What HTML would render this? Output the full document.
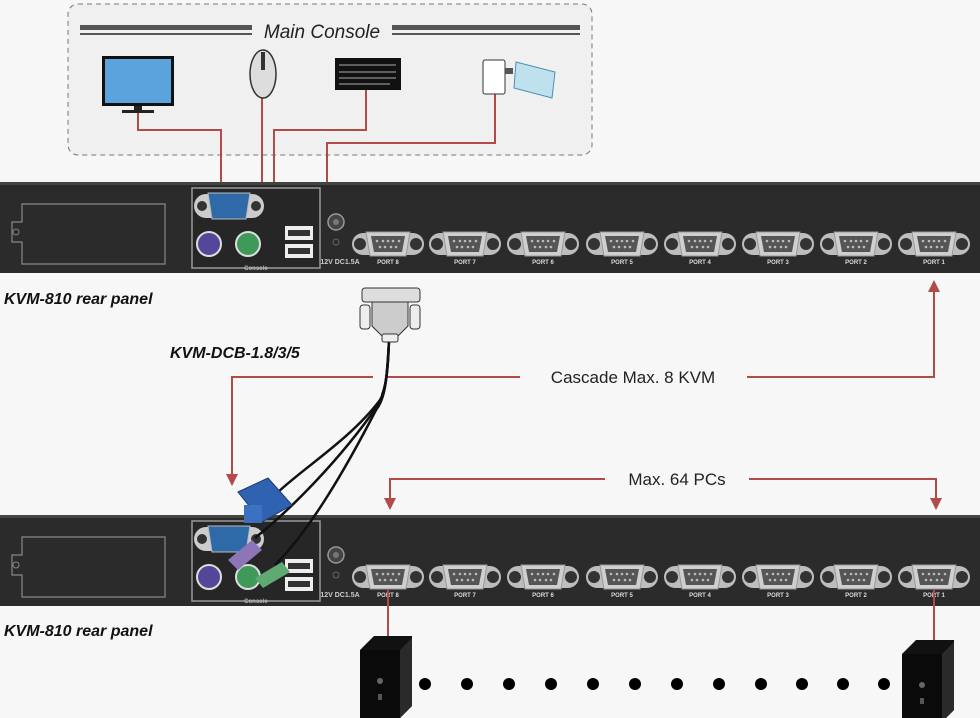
<!DOCTYPE html>
<html><head><meta charset="utf-8"><style>
html,body{margin:0;padding:0;background:#f7f7f7;}
svg{display:block;font-family:"Liberation Sans",sans-serif;}
</style></head><body>
<svg width="980" height="718" viewBox="0 0 980 718" xmlns="http://www.w3.org/2000/svg">
<defs>
<g id="vga">
  <rect x="-36" y="-11" width="72" height="22" rx="11" fill="#bdbdbd"/>
  <circle cx="-28" cy="0" r="6" fill="#333"/><circle cx="28" cy="0" r="6" fill="#333"/>
  <path d="M-22,-12 H22 L18,12 H-18 Z" fill="#cfcfcf" stroke="#999"/>
  <path d="M-17,-8 H17 L14,8 H-14 Z" fill="#555"/>
  <g fill="#bbb"><circle cx="-11" cy="-3" r="1.3"/><circle cx="-5" cy="-3" r="1.3"/><circle cx="0" cy="-3" r="1.3"/><circle cx="5" cy="-3" r="1.3"/><circle cx="11" cy="-3" r="1.3"/><circle cx="-8" cy="3" r="1.3"/><circle cx="-3" cy="3" r="1.3"/><circle cx="3" cy="3" r="1.3"/><circle cx="8" cy="3" r="1.3"/></g>
</g>
<g id="panel">
  <rect x="0" y="0" width="980" height="91" fill="#2b2b2b"/>
  <rect x="0" y="0" width="980" height="3" fill="#444"/>
  <path d="M22,22 H165 V82 H22 V60 H12 V40 H22 Z" fill="none" stroke="#888" stroke-width="1.2"/>
  <circle cx="16" cy="50" r="3" fill="none" stroke="#888"/>
  <rect x="192" y="6" width="128" height="80" fill="#262626" stroke="#999" stroke-width="1.5"/>
  <rect x="194" y="12" width="70" height="24" rx="12" fill="#ccc"/>
  <circle cx="202" cy="24" r="5" fill="#333"/><circle cx="256" cy="24" r="5" fill="#333"/>
  <path d="M208,11 H250 L246,37 H212 Z" fill="#2f6aa8" stroke="#bbb"/>
  <circle cx="209" cy="62" r="12" fill="#54479a" stroke="#ddd" stroke-width="2"/>
  <circle cx="248" cy="62" r="12" fill="#3f9a5a" stroke="#ddd" stroke-width="2"/>
  <rect x="285" y="44" width="28" height="14" fill="#eee"/><rect x="288" y="48" width="22" height="6" fill="#333"/>
  <rect x="285" y="62" width="28" height="14" fill="#eee"/><rect x="288" y="66" width="22" height="6" fill="#333"/>
  <text x="256" y="88" font-size="6" fill="#bbb" text-anchor="middle" font-weight="bold">Console</text>
  <circle cx="336" cy="40" r="8" fill="#444" stroke="#999" stroke-width="1.5"/><circle cx="336" cy="40" r="3" fill="#777"/>
  <circle cx="336" cy="60" r="3" fill="none" stroke="#666"/>
  <text x="340" y="82" font-size="7" fill="#ccc" text-anchor="middle" font-weight="bold">12V DC1.5A</text>
  <use href="#vga" x="388" y="62"/><use href="#vga" x="465" y="62"/><use href="#vga" x="543" y="62"/><use href="#vga" x="622" y="62"/>
  <use href="#vga" x="700" y="62"/><use href="#vga" x="778" y="62"/><use href="#vga" x="856" y="62"/><use href="#vga" x="934" y="62"/>
  <g font-size="6" fill="#ddd" text-anchor="middle" font-weight="bold">
  <text x="388" y="82">PORT 8</text><text x="465" y="82">PORT 7</text><text x="543" y="82">PORT 6</text><text x="622" y="82">PORT 5</text>
  <text x="700" y="82">PORT 4</text><text x="778" y="82">PORT 3</text><text x="856" y="82">PORT 2</text><text x="934" y="82">PORT 1</text></g>
</g>
<g id="pc">
  <path d="M0,14 L14,0 H52 V70 L40,82 H0 Z" fill="#111"/>
  <path d="M40,14 L52,2 V70 L40,82 Z" fill="#2a2a2a"/>
  <rect x="0" y="14" width="40" height="68" fill="#0a0a0a"/>
  <circle cx="20" cy="45" r="3" fill="#666"/><rect x="18" y="58" width="4" height="6" fill="#555"/>
</g>
</defs>
<rect x="68" y="4" width="524" height="151" rx="10" fill="#f0f0f0" stroke="#777" stroke-dasharray="5,4"/>
<rect x="80" y="25" width="172" height="5" fill="#555"/><rect x="80" y="33" width="172" height="2" fill="#555"/>
<rect x="392" y="25" width="188" height="5" fill="#555"/><rect x="392" y="33" width="188" height="2" fill="#555"/>
<text x="322" y="38" font-size="19" font-style="italic" fill="#222" text-anchor="middle">Main Console</text>
<g fill="none" stroke="#b24a4a" stroke-width="2">
  <path d="M138,112 V130 H221 V205"/>
  <path d="M262,97 V222 H258"/>
  <path d="M366,90 V130 H274 V230 H260"/>
  <path d="M495,93 V143 H327 V210"/>
</g>
<rect x="102" y="56" width="72" height="50" fill="#111"/><rect x="105" y="59" width="66" height="44" fill="#5aa3dc"/>
<rect x="134" y="106" width="8" height="4" fill="#222"/><rect x="122" y="110" width="32" height="3" fill="#222"/>
<ellipse cx="263" cy="74" rx="13" ry="24" fill="#ddd" stroke="#333" stroke-width="1.5"/><rect x="261" y="52" width="4" height="18" fill="#333"/>
<rect x="335" y="58" width="66" height="32" fill="#111"/>
<g stroke="#aaa" stroke-width="1"><line x1="339" y1="65" x2="396" y2="65"/><line x1="339" y1="72" x2="396" y2="72"/><line x1="339" y1="78" x2="396" y2="78"/><line x1="339" y1="84" x2="390" y2="84"/></g>
<rect x="483" y="60" width="22" height="34" rx="2" fill="#fff" stroke="#333"/><rect x="505" y="68" width="8" height="6" fill="#555"/>
<path d="M516,62 L555,72 L552,98 L514,88 Z" fill="#bfe1ee" stroke="#4a90b0"/>
<g transform="translate(0,182)"><use href="#panel"/></g>
<g transform="translate(0,515)"><use href="#panel"/></g>
<text x="4" y="304" font-size="16" font-weight="bold" font-style="italic" fill="#111">KVM-810 rear panel</text>
<text x="4" y="636" font-size="16" font-weight="bold" font-style="italic" fill="#111">KVM-810 rear panel</text>
<text x="170" y="358" font-size="16" font-weight="bold" font-style="italic" fill="#111">KVM-DCB-1.8/3/5</text>
<g fill="none" stroke="#b24a4a" stroke-width="2">
  <path d="M232,482 V377 H373"/><path d="M386,377 H520"/><path d="M747,377 H934 V290"/>
  <path d="M390,506 V479 H605"/><path d="M749,479 H936 V506"/>
</g>
<g fill="#b24a4a">
  <path d="M226,474 L238,474 L232,486 Z"/><path d="M928,292 L940,292 L934,280 Z"/>
  <path d="M384,498 L396,498 L390,510 Z"/><path d="M930,498 L942,498 L936,510 Z"/>
</g>
<text x="633" y="383" font-size="17" fill="#222" text-anchor="middle">Cascade Max. 8 KVM</text>
<text x="677" y="485" font-size="17" fill="#222" text-anchor="middle">Max. 64 PCs</text>
<g fill="none" stroke="#111" stroke-width="2.5">
  <path d="M389,340 C388,370 386,390 380,400 C350,440 300,470 275,495"/>
  <path d="M389,340 C387,380 385,395 378,405 C340,460 290,510 255,538"/>
  <path d="M389,340 C387,385 384,400 376,410 C345,470 310,530 275,565"/>
  <path d="M389,340 C388,370 386,385 382,395"/>
</g>
<rect x="362" y="288" width="58" height="14" rx="3" fill="#ddd" stroke="#333"/>
<path d="M372,302 H408 V326 L398,336 H382 L372,326 Z" fill="#ccc" stroke="#333"/>
<rect x="360" y="305" width="10" height="24" rx="3" fill="#eee" stroke="#333"/><rect x="410" y="305" width="10" height="24" rx="3" fill="#eee" stroke="#333"/>
<rect x="382" y="334" width="16" height="8" rx="2" fill="#eee" stroke="#333"/>
<path d="M238,492 L268,478 L292,505 L262,522 Z" fill="#2f62b0" stroke="#1c3c78"/>
<rect x="244" y="505" width="18" height="18" fill="#3c70c0"/>
<path d="M228,560 L252,540 L262,550 L238,570 Z" fill="#8c76b8"/>
<path d="M255,578 L282,562 L290,572 L263,588 Z" fill="#5faa72"/>
<path d="M388,590 V642" stroke="#b24a4a" stroke-width="2"/><path d="M934,590 V645" stroke="#b24a4a" stroke-width="2"/>
<g transform="translate(360,636)"><use href="#pc"/></g>
<g transform="translate(902,640)"><use href="#pc"/></g>
<g fill="#000">
<circle cx="425" cy="684" r="6"/><circle cx="467" cy="684" r="6"/><circle cx="509" cy="684" r="6"/><circle cx="551" cy="684" r="6"/>
<circle cx="593" cy="684" r="6"/><circle cx="635" cy="684" r="6"/><circle cx="677" cy="684" r="6"/><circle cx="719" cy="684" r="6"/>
<circle cx="761" cy="684" r="6"/><circle cx="802" cy="684" r="6"/><circle cx="843" cy="684" r="6"/><circle cx="884" cy="684" r="6"/>
</g>
</svg>
</body></html>
